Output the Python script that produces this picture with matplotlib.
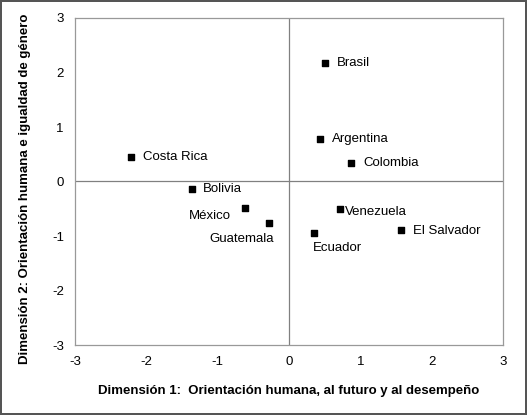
import matplotlib.pyplot as plt

plt.rcParams['font.family'] = ['Liberation Sans', 'DejaVu Sans']
plt.rcParams['axes.unicode_minus'] = False

# Country scores on the two dimensions
countries = ['Brasil', 'Argentina', 'Colombia', 'Costa Rica', 'Bolivia',
             'México', 'Guatemala', 'Venezuela', 'Ecuador', 'El Salvador']
dim1 = [0.50, 0.44, 0.87, -2.22, -1.36, -0.62, -0.28, 0.72, 0.35, 1.57]
dim2 = [2.18, 0.78, 0.34, 0.45, -0.13, -0.48, -0.77, -0.51, -0.94, -0.89]

# label offsets in pixels (dx, dy) and horizontal alignment
PX = 0.72
label_pos = {
    'Brasil': (12, 0, 'left'),
    'Argentina': (12, 0, 'left'),
    'Colombia': (12, 0, 'left'),
    'Costa Rica': (12, 0, 'left'),
    'Bolivia': (11, 0, 'left'),
    'México': (-14, -8, 'right'),
    'Guatemala': (5, -16, 'right'),
    'Venezuela': (5, -3, 'left'),
    'Ecuador': (-1, -15, 'left'),
    'El Salvador': (12, -1, 'left'),
}

fig = plt.figure(figsize=(5.27, 4.15), dpi=100, edgecolor='#555555', linewidth=1.5)
ax = fig.add_axes([75 / 527, 1 - 345 / 415, 428 / 527, 327 / 415])

ax.scatter(dim1, dim2, marker='s', s=24, color='black', zorder=3)
for name, x, y in zip(countries, dim1, dim2):
    dx, dy, ha = label_pos[name]
    ax.annotate(name, (x, y), xytext=(dx * PX, dy * PX), textcoords='offset points',
                ha=ha, va='center', fontsize=9.5)

ax.axhline(0, color='#808080', linewidth=0.9, zorder=1)
ax.axvline(0, color='#808080', linewidth=0.9, zorder=1)

ax.set_xlim(-3, 3)
ax.set_ylim(-3, 3)
ax.set_xticks(range(-3, 4))
ax.set_yticks(range(-3, 4))
ax.tick_params(length=0, labelsize=9.5, pad=8)
for s in ax.spines.values():
    s.set_color('#999999')
    s.set_linewidth(0.9)

ax.set_xlabel('Dimensión 1:  Orientación humana, al futuro y al desempeño',
              fontsize=9.5, fontweight='bold', labelpad=12)
ax.set_ylabel('Dimensión 2: Orientación humana e igualdad de género',
              fontsize=9.5, fontweight='bold', labelpad=12)
ax.yaxis.set_label_coords(-44 / 428, 0.477)

plt.savefig('out.png', dpi=100, facecolor='white')
